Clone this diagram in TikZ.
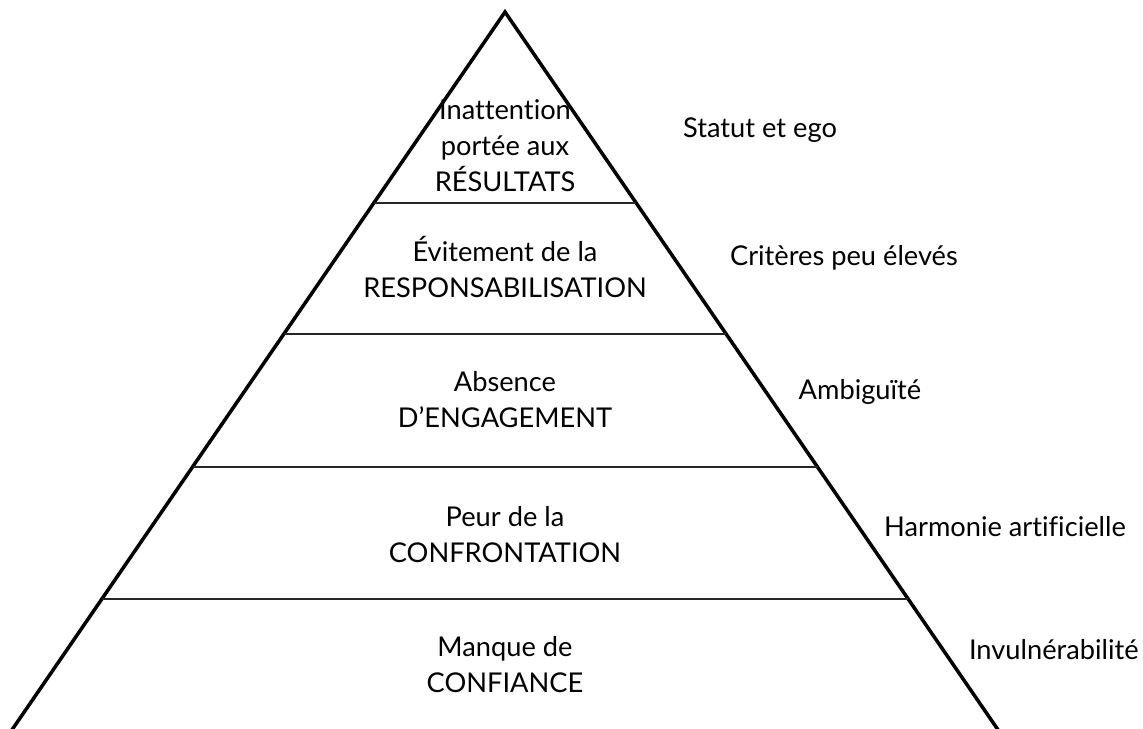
\documentclass[tikz,border=0pt]{standalone}
\usepackage{fontspec}
\setmainfont{Lato}[Ligatures=CommonOff]
\usetikzlibrary{calc}

\begin{document}
\begin{tikzpicture}[x=0.02cm,y=-0.02cm,
  level/.style={align=center,inner sep=0pt,font=\fontsize{15.5}{20.5}\selectfont},
  cause/.style={inner sep=0pt,font=\fontsize{15.5}{20.5}\selectfont},
  side/.style={line width=2pt},
  divider/.style={line width=1.1pt,black!85}]
  \useasboundingbox (0,0) rectangle (1143,729);

  % pyramid outline
  \coordinate (Apex)  at (505,12);
  \coordinate (BaseL) at (5,740);
  \coordinate (BaseR) at (1005,740);
  \draw[side] (BaseL) -- (Apex) -- (BaseR);

  % dividers between the levels
  \foreach \t [count=\i] in {0.2624,0.4423,0.6250,0.8063} {
    \coordinate (L\i) at ($(Apex)!\t!(BaseL)$);
    \coordinate (R\i) at ($(Apex)!\t!(BaseR)$);
    \draw[divider] (L\i) -- (R\i);
  }

  % levels
  \node[level] (Results)   at (505,146) {Inattention\\portée aux\\RÉSULTATS};
  \node[level] (Account)   at (505,267) {Évitement de la\\RESPONSABILISATION};
  \node[level] (Commit)    at (505,400) {Absence\\D’ENGAGEMENT};
  \node[level] (Conflict)  at (505,535) {Peur de la\\CONFRONTATION};
  \node[level] (Trust)     at (505,665) {Manque de\\CONFIANCE};

  % causes
  \node[cause] (Status)    at (760,130)  {Statut et ego};
  \node[cause] (Standards) at (844,258)  {Critères peu élevés};
  \node[cause] (Ambiguity) at (860,392)  {Ambiguïté};
  \node[cause] (Harmony)   at (1005,527) {Harmonie artificielle};
  \node[cause,anchor=east] (Invuln) at (1139,650) {Invulnérabilité};
\end{tikzpicture}
\end{document}
